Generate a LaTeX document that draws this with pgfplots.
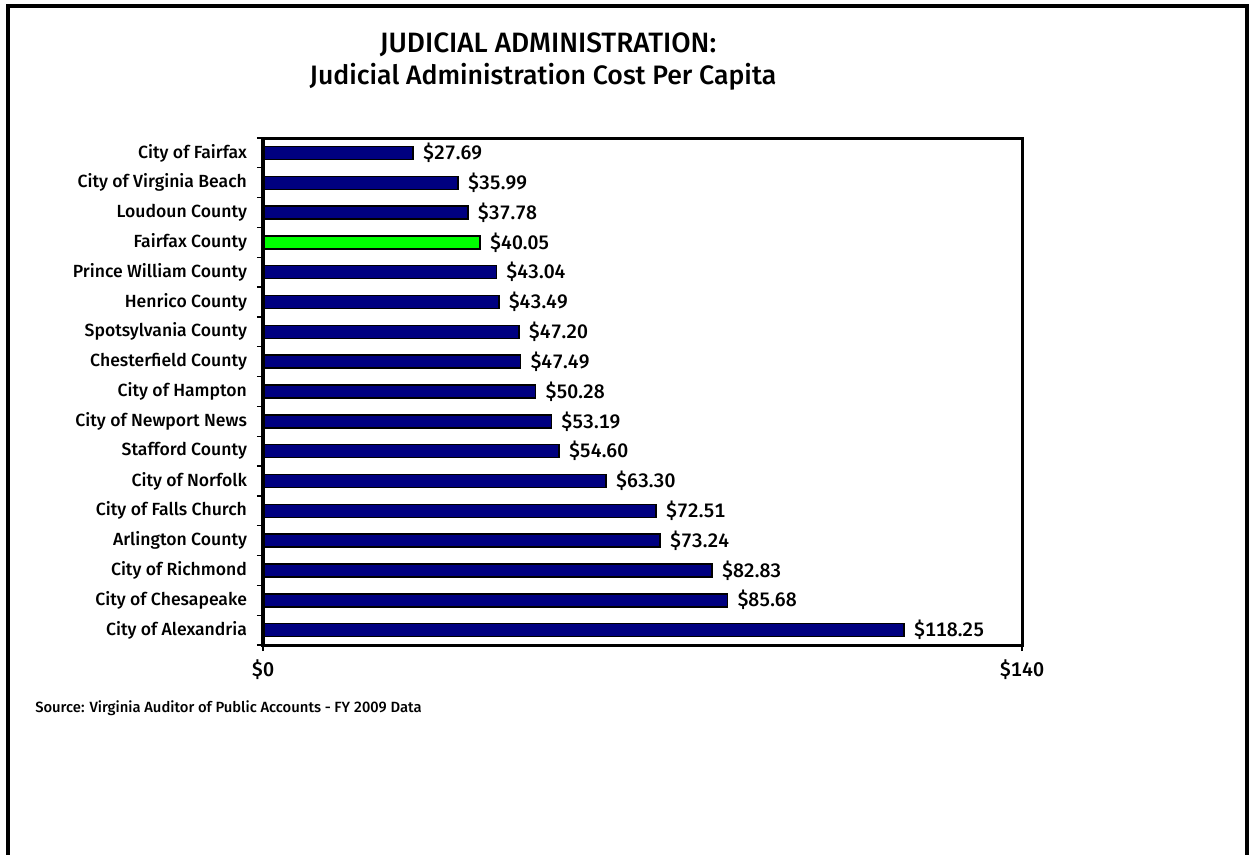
\documentclass[border=0pt]{standalone}
\usepackage{pgfplots}
\pgfplotsset{compat=1.18}
\usepackage{fontspec}
\setmainfont{Fira Sans}[UprightFont={* Medium}, BoldFont={* Medium}, Numbers=Monospaced]
\definecolor{barnavy}{HTML}{000080}
\definecolor{bargreen}{HTML}{00FF00}
\pgfplotstableread{
y v
0 27.69
1 35.99
2 37.78
4 43.04
5 43.49
6 47.20
7 47.49
8 50.28
9 53.19
10 54.60
11 63.30
12 72.51
13 73.24
14 82.83
15 85.68
16 118.25
}\navydata
\pgfplotstableread{
y v
3 40.05
}\greendata
\begin{document}
\begin{tikzpicture}[x=0.75pt,y=0.75pt]
\useasboundingbox (0,0) rectangle (1249,854);
\fill[white] (0,0) rectangle (1249,854);
\draw[line width=3pt] (7.5,-5) -- (7.5,847.5) -- (1246.5,847.5) -- (1246.5,-5);
\node[font=\fontsize{21}{24}\selectfont] at (548,809) {JUDICIAL ADMINISTRATION:};
\node[font=\fontsize{20}{24}\selectfont] at (543,777) {Judicial Administration Cost Per Capita};
\node[anchor=west,font=\fontsize{11.1}{13}\selectfont,inner sep=0pt] at (35,146) {Source: Virginia Auditor of Public Accounts - FY 2009 Data};
\begin{axis}[
  at={(197.25pt,156.75pt)}, anchor=south west,
  scale only axis, width=569.25pt, height=380.25pt,
  xbar, xmin=0, xmax=140, ymin=-0.5, ymax=16.5, y dir=reverse,
  tick align=outside, major tick length=4.5pt,
  tick style={black, line width=1pt},
  xtick pos=bottom, ytick pos=left,
  xtick={0,140}, xticklabels={\$0,\$140},
  xticklabel style={font=\fontsize{14.8}{17}\selectfont, yshift=-3pt},
  ytick={-0.5,0.5,...,16.5}, yticklabels={},
  extra y ticks={0,1,...,16},
  extra y tick style={major tick length=0pt},
  extra y tick labels={City of Fairfax,City of Virginia Beach,Loudoun County,Fairfax County,Prince William County,Henrico County,Spotsylvania County,Chesterfield County,City of Hampton,City of Newport News,Stafford County,City of Norfolk,City of Falls Church,Arlington County,City of Richmond,City of Chesapeake,City of Alexandria},
  yticklabel style={font=\fontsize{13.2}{15}\selectfont, xshift=-8.5pt},
  point meta=x,
  nodes near coords={\$\pgfmathprintnumber[fixed,fixed zerofill,precision=2,assume math mode=true]{\pgfplotspointmeta}},
  every node near coord/.append style={anchor=west, inner sep=0pt, xshift=7pt, font=\fontsize{14.6}{16}\selectfont, black},
  bar width=9.75pt, clip=false,
]
\addplot[bar shift=0pt, fill=barnavy, draw=black, line width=1.1pt] table[x=v,y=y] {\navydata};
\addplot[bar shift=0pt, fill=bargreen, draw=black, line width=1.1pt] table[x=v,y=y] {\greendata};
\draw[line width=2.25pt] (rel axis cs:0,0) rectangle (rel axis cs:1,1);
\end{axis}
\end{tikzpicture}
\end{document}
